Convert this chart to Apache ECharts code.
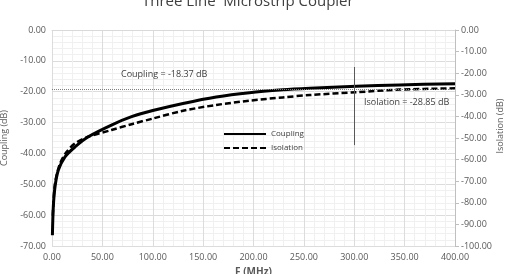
<!DOCTYPE html>
<html lang="en">
<head>
    <meta charset="UTF-8">
    <title>Three Line Microstrip Coupler</title>
    <script src="https://cdn.jsdelivr.net/npm/echarts@6/dist/echarts.min.js"></script>
    <style>body{margin:0;background:#fff;}</style>
</head>
<body>
<div id="main" style="width:506px;height:274px;"></div>
<script type="text/javascript">
    // coupling curve (left axis), F in MHz
    var couplingF = [0.4, 1.3, 3, 6.3, 12.9, 22.8, 36, 59, 79, 100, 130, 163, 196, 229, 256, 302, 345, 400];
    var couplingDb = [-66.5, -57.3, -50.8, -45.4, -41.1, -37.9, -34.6, -30.8, -28.1, -26.1, -23.8, -21.7, -20.3, -19.4, -18.9, -18.2, -17.8, -17.4];
    // isolation curve (right axis)
    var isolationF = [0.8, 3, 8, 14.6, 22.8, 36, 59, 79, 100, 130, 163, 196, 229, 256, 302, 345, 400];
    var isolationDb = [-86, -71, -61.8, -56.4, -52.5, -49.4, -46.3, -43.6, -41.0, -37.4, -34.7, -32.7, -31.2, -30.1, -28.8, -27.6, -27.0];
    // marker: dotted level line and the vertical cursor at 300 MHz
    var refLevel = -19.3;
    var cursorF = 300;
    var cursorRange = [-12, -37.3];

    var font = '"Open Sans", Lato, sans-serif';
    var grey = '#595959';

    function pairs(xs, ys) {
        var out = [];
        for (var i = 0; i < xs.length; i++) out.push([xs[i], ys[i]]);
        return out;
    }
    function fmt(v) { return v.toFixed(2); }

    var myChart = echarts.init(document.getElementById('main'));
    var option = {
        animation: false,
        backgroundColor: '#fff',
        textStyle: { fontFamily: font },
        title: {
            text: 'Three Line  Microstrip Coupler',
            left: 137,
            top: -11,
            textStyle: { fontSize: 15, fontWeight: 'normal', color: '#404040', fontFamily: font }
        },
        grid: { left: 52, right: 51, top: 30, bottom: 28, containLabel: false, outerBoundsMode: 'none' },
        legend: {
            orient: 'vertical',
            left: 218,
            top: 125,
            itemWidth: 42,
            itemHeight: 10,
            itemGap: 6,
            itemStyle: { opacity: 0 },
            textStyle: { fontSize: 8, color: '#404040', fontFamily: font },
            data: ['Coupling', 'Isolation']
        },
        graphic: [
            { type: 'text', left: 121, top: 70, z: 100,
              style: { text: 'Coupling = -18.37 dB', fontSize: 9, fill: '#404040', fontFamily: font } },
            { type: 'text', left: 364, top: 98, z: 100,
              style: { text: 'Isolation = -28.85 dB', fontSize: 9, fill: '#404040', fontFamily: font } },
            { type: 'text', x: 500, y: 126, rotation: Math.PI / 2, z: 100,
              style: { text: 'Isolation (dB)', fontSize: 9, fill: grey, fontFamily: font,
                       align: 'center', verticalAlign: 'middle' } }
        ],
        xAxis: {
            type: 'value',
            min: 0, max: 400, interval: 50,
            name: 'F (MHz)',
            nameLocation: 'middle',
            nameGap: 19,
            nameTextStyle: { fontSize: 10, color: grey, fontWeight: 'bold' },
            axisLine: { show: true, lineStyle: { color: '#d9d9d9' } },
            axisTick: { show: false },
            axisLabel: { formatter: fmt, fontSize: 9, color: grey, margin: 7 },
            splitLine: { show: true, lineStyle: { color: '#dcdcdc', width: 1 } },
            minorTick: { show: false, splitNumber: 5 },
            minorSplitLine: { show: true, lineStyle: { color: '#f0f0f0', width: 1 } }
        },
        yAxis: [
            {
                type: 'value',
                min: -70, max: 0, interval: 10,
                name: 'Coupling (dB)',
                nameLocation: 'middle',
                nameGap: 40,
                nameTextStyle: { fontSize: 9, color: grey },
                axisLine: { show: false },
                axisTick: { show: false },
                axisLabel: { formatter: fmt, fontSize: 9, color: grey, margin: 6 },
                splitLine: { show: true, lineStyle: { color: '#dcdcdc', width: 1 } },
                minorTick: { show: false, splitNumber: 5 },
                minorSplitLine: { show: true, lineStyle: { color: '#f0f0f0', width: 1 } }
            },
            {
                type: 'value',
                min: -100, max: 0, interval: 10,
                position: 'right',
                axisLine: { show: true, lineStyle: { color: '#bfbfbf' } },
                axisTick: { show: true, inside: false, length: 4, lineStyle: { color: '#bfbfbf' } },
                axisLabel: { formatter: fmt, fontSize: 9, color: grey, margin: 6 },
                splitLine: { show: false }
            }
        ],
        series: [
            {
                name: 'Coupling',
                type: 'line',
                yAxisIndex: 0,
                smooth: 0.3,
                symbol: 'none',
                data: pairs(couplingF, couplingDb),
                lineStyle: { color: '#000', width: 3 },
                itemStyle: { color: '#000' },
                markLine: {
                    silent: true,
                    symbol: 'none',
                    label: { show: false },
                    data: [
                        [{ coord: [0, refLevel], lineStyle: { color: '#808080', width: 1, type: [1, 1] } },
                         { coord: [400, refLevel] }],
                        [{ coord: [cursorF, cursorRange[0]], lineStyle: { color: '#595959', width: 1, type: 'solid' } },
                         { coord: [cursorF, cursorRange[1]] }]
                    ]
                }
            },
            {
                name: 'Isolation',
                type: 'line',
                yAxisIndex: 1,
                smooth: 0.3,
                symbol: 'none',
                data: pairs(isolationF, isolationDb),
                lineStyle: { color: '#000', width: 2.5, type: [6, 3] },
                itemStyle: { color: '#000' }
            }
        ]
    };
    myChart.setOption(option);
</script>
</body>
</html>
